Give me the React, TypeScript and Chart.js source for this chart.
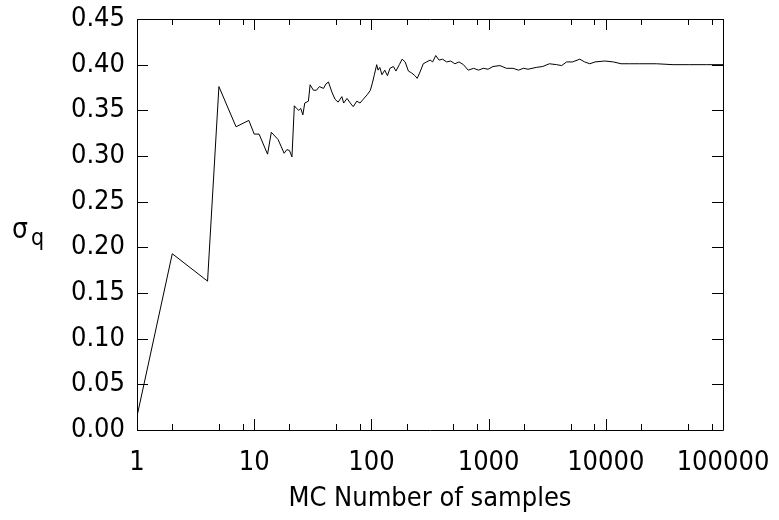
import React, { useEffect, useRef } from "react";
import { Chart, registerables } from "chart.js";

Chart.register(...registerables);

const sampleCounts: number[] = [
  1, 2, 4, 5, 7, 9, 10, 11, 13, 14, 16, 18, 19, 20, 21, 22, 23, 24, 25, 26, 27, 29,
  30, 32, 34, 36, 39, 41, 43, 46, 49, 52, 56, 58, 62, 66, 70, 75, 80, 85, 92, 98,
  102, 106, 111, 114, 118, 123, 130, 137, 144, 154, 162, 173, 183, 194, 207, 220,
  235, 246, 260, 277, 296, 317, 333, 354, 378, 405, 438, 475, 515, 560, 610, 670,
  745, 820, 900, 990, 1090, 1250, 1420, 1620, 1800, 1980, 2170, 2550, 2900, 3300,
  3800, 4200, 4630, 5200, 6000, 6600, 7300, 8100, 9800, 11600, 13500, 16000, 19500,
  27000, 37500, 52000, 72000, 100000,
];

const sigmaQ: number[] = [
  0.015, 0.193, 0.163, 0.376, 0.332, 0.339, 0.324, 0.324, 0.302, 0.326, 0.318, 0.303,
  0.307, 0.306, 0.299, 0.355, 0.352, 0.350, 0.352, 0.345, 0.358, 0.360,
  0.378, 0.372, 0.372, 0.376, 0.374, 0.379, 0.381, 0.370, 0.362, 0.359, 0.365, 0.358,
  0.363, 0.358, 0.354, 0.360, 0.358, 0.362, 0.367, 0.372,
  0.380, 0.389, 0.400, 0.394, 0.397, 0.389, 0.394, 0.388, 0.396, 0.398, 0.393, 0.400,
  0.406, 0.403, 0.393, 0.391, 0.388, 0.385, 0.392, 0.401, 0.403, 0.405, 0.403, 0.410,
  0.405, 0.406, 0.403, 0.404, 0.401, 0.403, 0.400, 0.394,
  0.396, 0.394, 0.396, 0.395, 0.398, 0.399, 0.396, 0.396, 0.394, 0.396, 0.395, 0.397,
  0.398, 0.401, 0.400, 0.399, 0.403, 0.403, 0.406, 0.403, 0.401, 0.403, 0.404, 0.403,
  0.401, 0.401, 0.401, 0.401, 0.400, 0.400, 0.400, 0.400,
];

const xTickValues: number[] = [1, 10, 100, 1000, 10000, 100000];
const xMinorMultipliers: number[] = [2, 5, 8];
const yTickValues: number[] = [0, 0.05, 0.1, 0.15, 0.2, 0.25, 0.3, 0.35, 0.4, 0.45];

const xTitle = "MC Number of samples";
const yTitleMain = "σ";
const yTitleSub = "q";

const FONT = "'DejaVu Sans Condensed', 'DejaVu Sans', sans-serif";

const boxPlugin = {
  id: "boxAndTicks",
  afterDraw(chart: any) {
    const { ctx, chartArea } = chart;
    const { left, right, top, bottom } = chartArea;
    const xs = chart.scales.x;
    const ys = chart.scales.y;
    ctx.save();
    ctx.strokeStyle = "#000";
    ctx.lineWidth = 1;
    ctx.beginPath();
    ctx.rect(Math.round(left) + 0.5, Math.round(top) + 0.5, Math.round(right - left), Math.round(bottom - top));
    ctx.stroke();
    const major = 11;
    const minor = 6;
    ctx.beginPath();
    const drawX = (v: number, len: number) => {
      const px = Math.round(xs.getPixelForValue(v)) + 0.5;
      ctx.moveTo(px, bottom);
      ctx.lineTo(px, bottom - len);
      ctx.moveTo(px, top);
      ctx.lineTo(px, top + len);
    };
    xTickValues.forEach((v, i) => {
      drawX(v, major);
      if (i < xTickValues.length - 1) {
        xMinorMultipliers.forEach((m) => drawX(v * m, minor));
      }
    });
    yTickValues.forEach((v) => {
      const py = Math.round(ys.getPixelForValue(v)) + 0.5;
      ctx.moveTo(left, py);
      ctx.lineTo(left + major, py);
      ctx.moveTo(right, py);
      ctx.lineTo(right - major, py);
    });
    ctx.stroke();

    // y-axis title: sigma with subscript q
    ctx.fillStyle = "#000";
    ctx.textAlign = "left";
    ctx.textBaseline = "alphabetic";
    ctx.font = `28px ${FONT}`;
    ctx.fillText(yTitleMain, 12, 238);
    ctx.font = `23px ${FONT}`;
    ctx.fillText(yTitleSub, 31, 245);
    ctx.restore();
  },
};

export default function App() {
  const ref = useRef<HTMLCanvasElement | null>(null);
  useEffect(() => {
    document.body.style.margin = "0";
    const canvas = ref.current!;
    const chart = new Chart(canvas, {
      type: "line",
      data: {
        datasets: [
          {
            data: sampleCounts.map((n, i) => ({ x: n, y: sigmaQ[i] })),
            borderColor: "#000",
            borderWidth: 1,
            pointRadius: 0,
            tension: 0,
            fill: false,
          },
        ],
      },
      options: {
        animation: false,
        responsive: false,
        devicePixelRatio: 1,
        layout: { padding: { left: 0, top: 19, right: 56, bottom: 0 } },
        plugins: {
          legend: { display: false },
          tooltip: { enabled: false },
        },
        scales: {
          x: {
            type: "logarithmic",
            min: 1,
            max: 100000,
            grid: { display: false, drawTicks: false },
            border: { display: false },
            afterBuildTicks: (scale: any) => {
              scale.ticks = xTickValues.map((v) => ({ value: v, major: true }));
            },
            afterFit: (scale: any) => {
              scale.height = 90;
              scale.paddingLeft = 0;
              scale.paddingRight = 0;
            },
            ticks: {
              autoSkip: false,
              maxRotation: 0,
              padding: 17,
              color: "#000",
              font: { family: FONT, size: 27 },
              callback: (v: any) => String(v),
            },
            title: {
              display: true,
              text: xTitle,
              color: "#000",
              font: { family: FONT, size: 27 },
              padding: { top: 0, bottom: 5 },
            },
          },
          y: {
            min: 0,
            max: 0.45,
            grid: { display: false, drawTicks: false },
            border: { display: false },
            afterBuildTicks: (scale: any) => {
              scale.ticks = yTickValues.map((v) => ({ value: v }));
            },
            afterFit: (scale: any) => {
              scale.width = 137;
              scale.paddingTop = 0;
              scale.paddingBottom = 0;
            },
            ticks: {
              padding: 12,
              color: "#000",
              font: { family: FONT, size: 27 },
              callback: (v: any) => Number(v).toFixed(2),
            },
          },
        },
      },
      plugins: [boxPlugin],
    });
    return () => chart.destroy();
  }, []);
  return (
    <div style={{ position: "absolute", left: 0, top: 0, width: 779, height: 520, background: "#fff" }}>
      <canvas ref={ref} width={779} height={520} />
    </div>
  );
}
